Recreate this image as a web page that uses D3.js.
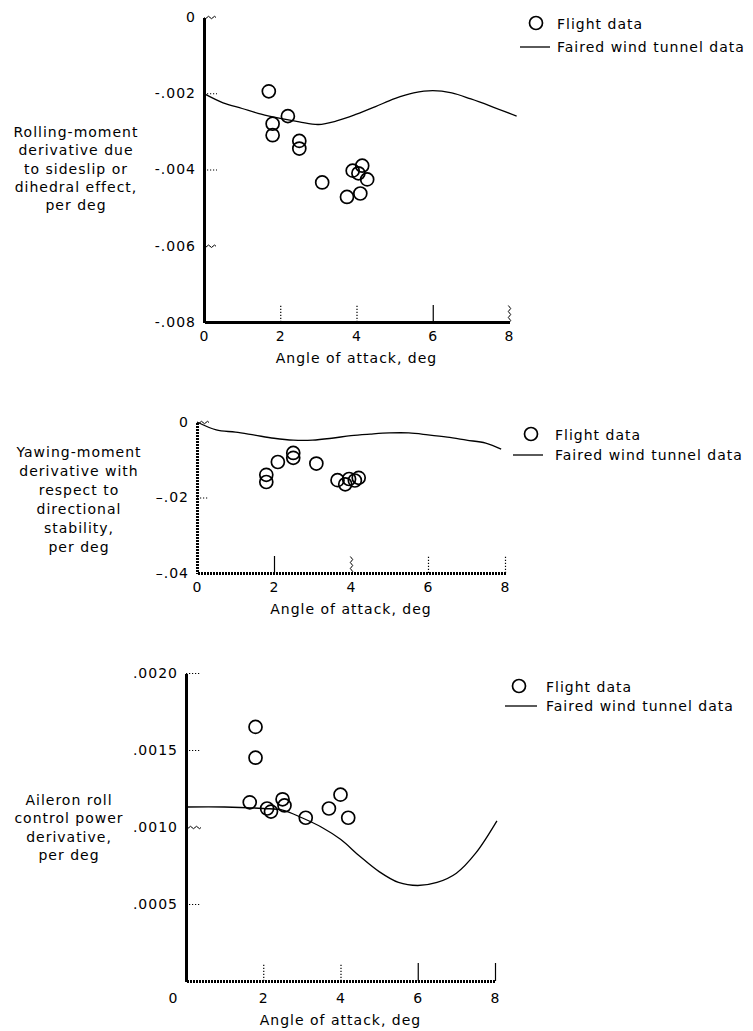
<!DOCTYPE html>
<html>
<head>
<meta charset="utf-8">
<script src="https://cdn.jsdelivr.net/npm/d3@7"></script>
<style>
  body { margin: 0; background: #fff; }
  svg text { font-family: "DejaVu Sans", sans-serif; font-size: 14px; letter-spacing: 1px; fill: #000; }
</style>
</head>
<body>
<svg id="chart" width="753" height="1031"></svg>
<script>
// ---- shared angle-of-attack axis ----
const alphaTicks = [0, 2, 4, 6, 8];
const alphaTickLabels = ["0", "2", "4", "6", "8"];

// ---- rolling-moment derivative (dihedral effect) ----
const rollTicks = [0, -0.002, -0.004, -0.006, -0.008];
const rollTickLabels = ["0", "-.002", "-.004", "-.006", "-.008"];
const rollFlightAlpha = [1.7, 1.8, 1.8, 2.2, 2.5, 2.5, 3.1, 3.75, 4.1, 3.9, 4.15, 4.28, 4.05];
const rollFlightValue = [-0.00195, -0.0028, -0.0031, -0.0026, -0.00325, -0.00345, -0.00434, -0.00472, -0.00463, -0.00403, -0.0039, -0.00426, -0.0041];
const rollTunnelAlpha = [0, 0.5, 1, 1.5, 2, 2.5, 3, 3.5, 4, 4.5, 5, 5.5, 6, 6.5, 7, 7.5, 8.2];
const rollTunnelValue = [-0.00201, -0.00225, -0.0024, -0.00255, -0.00266, -0.00275, -0.00282, -0.00272, -0.00255, -0.00235, -0.00214, -0.00199, -0.00193, -0.00199, -0.00215, -0.00233, -0.0026];

// ---- yawing-moment derivative (directional stability) ----
const yawTicks = [0, -0.02, -0.04];
const yawTickLabels = ["0", "\u2013.02", "\u2013.04"];
const yawFlightAlpha = [1.8, 1.8, 2.1, 2.5, 2.5, 3.1, 3.65, 3.85, 3.95, 4.1, 4.2];
const yawFlightValue = [-0.014, -0.0159, -0.0106, -0.0082, -0.0095, -0.011, -0.0154, -0.0165, -0.0151, -0.0155, -0.0148];
const yawTunnelAlpha = [0, 0.5, 1, 1.5, 2, 2.5, 3, 3.5, 4, 4.5, 5, 5.5, 6, 6.5, 7, 7.5, 7.9];
const yawTunnelValue = [0, -0.0021, -0.0027, -0.0035, -0.0043, -0.0048, -0.0048, -0.0043, -0.0036, -0.0032, -0.0029, -0.0029, -0.0034, -0.004, -0.0048, -0.0056, -0.0072];

// ---- aileron roll control power derivative ----
const ailTicks = [0.002, 0.0015, 0.001, 0.0005];
const ailTickLabels = [".0020", ".0015", ".0010", ".0005"];
const ailFlightAlpha = [1.8, 1.8, 1.65, 2.1, 2.2, 2.5, 2.55, 3.1, 3.7, 4.0, 4.2];
const ailFlightValue = [0.00165, 0.00145, 0.00116, 0.00112, 0.0011, 0.00118, 0.00114, 0.00106, 0.00112, 0.00121, 0.00106];
const ailTunnelAlpha = [0, 1, 2, 2.5, 3, 3.5, 4, 4.5, 5, 5.5, 6, 6.5, 7, 7.5, 8.05];
const ailTunnelValue = [0.00113, 0.00113, 0.00112, 0.00111, 0.00106, 0.001, 0.00092, 0.00081, 0.00071, 0.00064, 0.00062, 0.00064, 0.0007, 0.00083, 0.00104];

const legendLabels = ["Flight data", "Faired wind tunnel data"];
const xTitle = "Angle of attack, deg";

// ---- layout of the three stacked panels ----
const panels = [
  {
    title: ["Rolling-moment", "derivative due", "to sideslip or", "dihedral effect,", "per deg"],
    titleX: 76, titleY: 132, titleStep: 18.3,
    xr: [204, 509], yr: [17, 322], yd: [0, -0.008],
    yTicks: rollTicks, yLabels: rollTickLabels,
    yTickStyle: ["wavy", "dotted", "dotted", "wavy", "none"], yTickLen: 13,
    xTickStyle: ["none", "dotted", "dotted", "solid", "wavy"], xTickLen: 17,
    axisStyle: "solid", xPad: 9, xTitleDy: 36, zeroShift: 0,
    fa: rollFlightAlpha, fv: rollFlightValue, ta: rollTunnelAlpha, tv: rollTunnelValue,
    legend: { cx: 536, cy: 23, lx: [520, 550], ly: 47, tx: 557 }
  },
  {
    title: ["Yawing-moment", "derivative with", "respect to", "directional", "stability,", "per deg"],
    titleX: 79, titleY: 452, titleStep: 19,
    xr: [197, 505], yr: [422, 573], yd: [0, -0.04],
    yTicks: yawTicks, yLabels: yawTickLabels,
    yTickStyle: ["wavy", "dotted", "none"], yTickLen: 12,
    xTickStyle: ["none", "solid", "wavy", "dotted", "dotted"], xTickLen: 17,
    axisStyle: "dotted", xPad: 9, xTitleDy: 36, zeroShift: 0,
    fa: yawFlightAlpha, fv: yawFlightValue, ta: yawTunnelAlpha, tv: yawTunnelValue,
    legend: { cx: 531, cy: 434, lx: [513, 543], ly: 455, tx: 555 }
  },
  {
    title: ["Aileron roll", "control power", "derivative,", "per deg"],
    titleX: 69, titleY: 800, titleStep: 18.3,
    xr: [186, 495], yr: [981, 673], yd: [0, 0.002],
    yTicks: ailTicks, yLabels: ailTickLabels,
    yTickStyle: ["dotted", "dotted", "wavy", "dotted"], yTickLen: 15,
    xTickStyle: ["none", "dotted", "dotted", "solid", "solid"], xTickLen: 18,
    axisStyle: "dottedX", xPad: 12, xTitleDy: 39, zeroShift: -13,
    fa: ailFlightAlpha, fv: ailFlightValue, ta: ailTunnelAlpha, tv: ailTunnelValue,
    legend: { cx: 519, cy: 686, lx: [505, 537], ly: 706, tx: 546 }
  }
];

const svg = d3.select("#chart");

// zig-zag stroke used for the wavy tick marks
function zigzag(x1, y1, x2, y2) {
  const len = Math.hypot(x2 - x1, y2 - y1);
  const ux = (x2 - x1) / len, uy = (y2 - y1) / len;
  const nx = -uy, ny = ux;
  const pts = [];
  for (let s = 0, k = 0; s <= len; s += 1.5, k++) {
    const a = (k % 4 === 1) ? 1.2 : (k % 4 === 3) ? -1.2 : 0;
    pts.push([x1 + ux * s + nx * a, y1 + uy * s + ny * a]);
  }
  return d3.line()(pts);
}

function styleTicks(g, styles, horizontal) {
  g.selectAll(".tick").each(function (d, i) {
    const t = d3.select(this);
    const line = t.select("line");
    const st = styles[i];
    line.attr("stroke", "#000").attr("stroke-width", 1.2);
    if (st === "none") line.remove();
    else if (st === "dotted") line.attr("stroke-dasharray", "1.2,1.8");
    else if (st === "wavy") {
      const x2 = +line.attr("x2") || 0, y2 = +line.attr("y2") || 0;
      line.remove();
      t.append("path").attr("d", zigzag(0, 0, x2, y2))
        .attr("fill", "none").attr("stroke", "#000").attr("stroke-width", 1);
    }
  });
}

panels.forEach(p => {
  const x = d3.scaleLinear().domain([0, 8]).range(p.xr);
  const y = d3.scaleLinear().domain(p.yd).range(p.yr);
  const axisY = Math.max(p.yr[0], p.yr[1]);
  const g = svg.append("g");

  // y axis: ticks point inward
  const yAxis = d3.axisLeft(y).tickValues(p.yTicks)
    .tickFormat((d, i) => p.yLabels[i])
    .tickSizeInner(-p.yTickLen).tickSizeOuter(0).tickPadding(8);
  const gy = g.append("g").attr("transform", `translate(${p.xr[0]},0)`).call(yAxis);
  gy.selectAll("text").attr("fill", "#000").style("font-size", "14px").style("font-family", "DejaVu Sans");
  styleTicks(gy, p.yTickStyle);

  // x axis: ticks point upward
  const xAxis = d3.axisBottom(x).tickValues(alphaTicks)
    .tickFormat((d, i) => alphaTickLabels[i])
    .tickSizeInner(-p.xTickLen).tickSizeOuter(0).tickPadding(p.xPad);
  const gx = g.append("g").attr("transform", `translate(0,${axisY})`).call(xAxis);
  gx.selectAll("text").attr("fill", "#000").style("font-size", "14px").style("font-family", "DejaVu Sans");
  gx.selectAll(".tick").filter(d => d === 0).select("text").attr("dx", p.zeroShift);
  styleTicks(gx, p.xTickStyle);

  // axis spines
  [gx, gy].forEach((a, k) => {
    const dom = a.select(".domain").attr("stroke", "#000").attr("stroke-width", 2.2)
      .attr("shape-rendering", "crispEdges");
    if (p.axisStyle === "dotted" || (p.axisStyle === "dottedX" && a === gx)) {
      dom.attr("stroke-dasharray", "2,1").attr("stroke-width", 2.6);
    }
  });

  // x axis title
  g.append("text").attr("x", (p.xr[0] + p.xr[1]) / 2).attr("y", axisY + p.xTitleDy)
    .attr("dy", "0.35em").attr("text-anchor", "middle").text(xTitle);

  // y axis title, stacked lines
  const yt = g.append("text").attr("text-anchor", "middle");
  p.title.forEach((line, i) => {
    yt.append("tspan").attr("x", p.titleX).attr("y", p.titleY + i * p.titleStep)
      .attr("dy", "0.35em").text(line);
  });

  // faired wind tunnel curve
  const tunnel = p.ta.map((a, i) => [a, p.tv[i]]);
  g.append("path").datum(tunnel)
    .attr("fill", "none").attr("stroke", "#000").attr("stroke-width", 1.3)
    .attr("d", d3.line().x(d => x(d[0])).y(d => y(d[1])).curve(d3.curveCatmullRom));

  // flight data points
  const flight = p.fa.map((a, i) => [a, p.fv[i]]);
  g.selectAll("circle.pt").data(flight).join("circle").attr("class", "pt")
    .attr("cx", d => x(d[0])).attr("cy", d => y(d[1])).attr("r", 6.5)
    .attr("fill", "none").attr("stroke", "#000").attr("stroke-width", 1.7);

  // legend
  const L = p.legend;
  g.append("circle").attr("cx", L.cx).attr("cy", L.cy).attr("r", 6.5)
    .attr("fill", "none").attr("stroke", "#000").attr("stroke-width", 1.7);
  g.append("line").attr("x1", L.lx[0]).attr("x2", L.lx[1]).attr("y1", L.ly).attr("y2", L.ly)
    .attr("stroke", "#000").attr("stroke-width", 1.3);
  g.append("text").attr("x", L.tx).attr("y", L.cy + 1).attr("dy", "0.35em").text(legendLabels[0]);
  g.append("text").attr("x", L.tx).attr("y", L.ly).attr("dy", "0.35em").text(legendLabels[1]);
});
</script>
</body>
</html>
